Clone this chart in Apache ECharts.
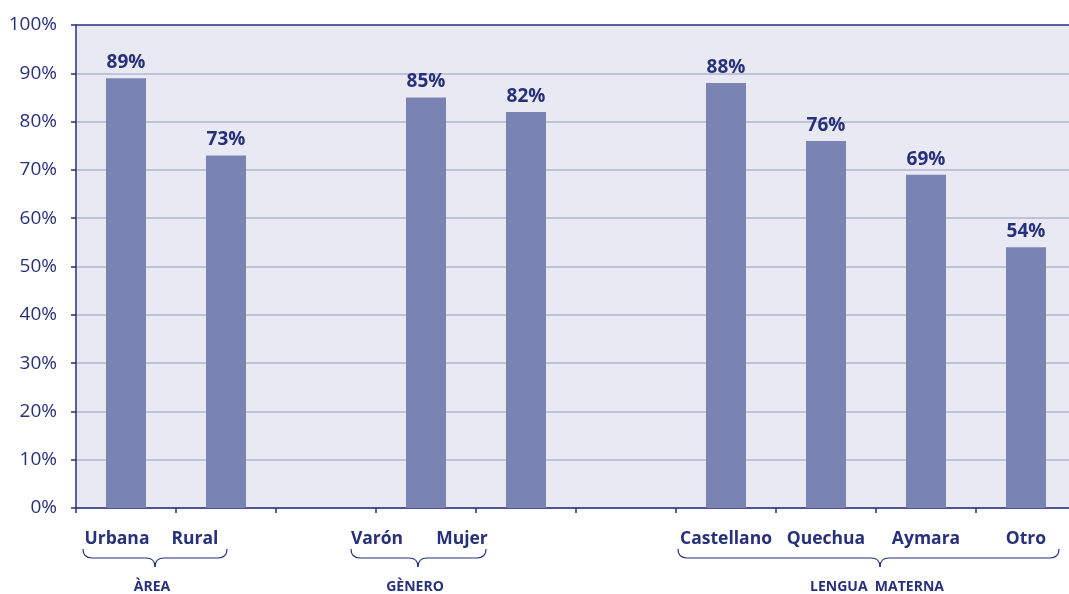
<!DOCTYPE html>
<html>
<head>
<meta charset="utf-8">
<script src="https://cdn.jsdelivr.net/npm/echarts@6/dist/echarts.min.js"></script>
<style>html,body{margin:0;padding:0;background:#fff}#c{width:1069px;height:594px}</style>
</head>
<body>
<div id="c"></div>
<script>
var categories = ['Urbana', 'Rural', '', 'Varón', 'Mujer', ' ', 'Castellano', 'Quechua', 'Aymara', 'Otro'];
var values = [89, 73, null, 85, 82, null, 88, 76, 69, 54];
var yTicks = [0, 10, 20, 30, 40, 50, 60, 70, 80, 90, 100];
var groupLabels = ['ÀREA', 'GÈNERO', 'LENGUA  MATERNA'];

var NAVY = '#27307a';
var labelShift = { 'Urbana': 18, 'Rural': 62, 'Varón': 98, 'Mujer': 128 };
var rich = {};
categories.forEach(function (c, i) {
  rich['l' + i] = {
    fontFamily: 'Open Sans', fontWeight: 'bold', fontSize: 17.5, color: NAVY,
    padding: [0, labelShift[c] || 0, 0, 0]
  };
});

var chart = echarts.init(document.getElementById('c'));
var gridColors = yTicks.map(function (t, i) { return i === yTicks.length - 1 ? NAVY : '#b0b5d1'; });

chart.setOption({
  animation: false,
  grid: { left: 76, top: 25, width: 1000, height: 483, show: true, backgroundColor: '#e9e9f3', borderWidth: 0,
    outerBoundsMode: 'none', containLabel: false },
  xAxis: {
    type: 'category',
    data: categories,
    axisLine: { lineStyle: { color: NAVY, width: 1.5 } },
    axisTick: { show: true, length: 5, lineStyle: { color: NAVY, width: 1.5 } },
    axisLabel: {
      margin: 22, interval: 0,
      formatter: function (v) {
        var i = categories.indexOf(v);
        return '{l' + i + '|' + v + '}';
      },
      rich: rich
    },
    splitLine: { show: false }
  },
  yAxis: {
    type: 'value', min: 0, max: 100, interval: 10,
    axisLine: { show: true, lineStyle: { color: NAVY, width: 1.5 } },
    axisTick: { show: true, length: 5, lineStyle: { color: NAVY, width: 1.5 } },
    axisLabel: { margin: 19, fontFamily: 'Open Sans', fontSize: 19, color: NAVY, formatter: '{value}%' },
    splitLine: { show: true, lineStyle: { color: gridColors, width: 1.5 } }
  },
  series: [{
    type: 'bar',
    data: values,
    barWidth: 40,
    itemStyle: { color: '#7a84b2' },
    label: {
      show: true, position: 'top', distance: 6,
      fontFamily: 'Open Sans', fontWeight: 'bold', fontSize: 19, color: NAVY,
      formatter: '{c}%'
    }
  }]
});

// Decorative braces and group titles
var braces = [
  { x1: 83, x2: 227, c: 155, label: groupLabels[0] },
  { x1: 351, x2: 486, c: 418, label: groupLabels[1] },
  { x1: 678, x2: 1059, c: 880, label: groupLabels[2] }
];
var y0 = 549, y1 = 558, y2 = 567, r = 9;
var els = [];
var st = { fill: null, stroke: NAVY, lineWidth: 1.2 };
function curve(ax, ay, cx, cy, bx, by) {
  els.push({ type: 'bezierCurve', shape: { x1: ax, y1: ay, cpx1: cx, cpy1: cy, x2: bx, y2: by }, style: st });
}
function line(ax, ay, bx, by) {
  els.push({ type: 'line', shape: { x1: ax, y1: ay, x2: bx, y2: by }, style: st });
}
braces.forEach(function (b) {
  curve(b.x1, y0, b.x1, y1, b.x1 + r, y1);
  line(b.x1 + r, y1, b.c - r, y1);
  curve(b.c - r, y1, b.c, y1, b.c, y2);
  curve(b.c, y2, b.c, y1, b.c + r, y1);
  line(b.c + r, y1, b.x2 - r, y1);
  curve(b.x2 - r, y1, b.x2, y1, b.x2, y0);
  els.push({ type: 'text', x: b.c - 3, y: 587, style: {
    text: b.label, fill: NAVY, font: 'bold 14px "Open Sans"', align: 'center', verticalAlign: 'middle'
  } });
});
chart.setOption({ graphic: { elements: els } });
</script>
</body>
</html>
